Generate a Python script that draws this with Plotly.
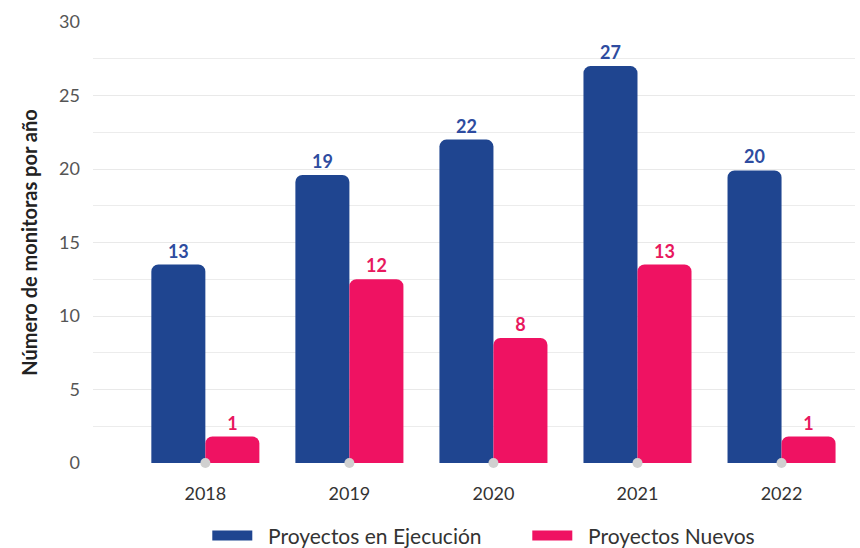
import plotly.graph_objects as go

years = ["2018", "2019", "2020", "2021", "2022"]
# bar heights as drawn, and the labels printed above them
ejecucion = [13.5, 19.6, 22.0, 27.0, 19.9]
ejecucion_labels = ["13", "19", "22", "27", "20"]
nuevos = [1.8, 12.5, 8.5, 13.5, 1.8]
nuevos_labels = ["1", "12", "8", "13", "1"]
baseline = [0, 0, 0, 0, 0]

BLUE = "#1f4590"
PINK = "#ef1262"

fig = go.Figure()

fig.add_trace(go.Bar(
    x=years, y=ejecucion, text=ejecucion_labels, name="Proyectos en Ejecución",
    marker=dict(color=BLUE, cornerradius=7, line=dict(width=0)),
    textposition="outside", cliponaxis=False,
    textfont=dict(family="Lato", size=18, color="#2e4ca0", weight="bold"),
    showlegend=False,
))
fig.add_trace(go.Bar(
    x=years, y=nuevos, text=nuevos_labels, name="Proyectos Nuevos",
    marker=dict(color=PINK, cornerradius=7, line=dict(width=0)),
    textposition="outside", cliponaxis=False,
    textfont=dict(family="Lato", size=18, color="#e8185e", weight="bold"),
    showlegend=False,
))

# small grey dots on the baseline at each category
fig.add_trace(go.Scatter(
    x=years, y=baseline, mode="markers", cliponaxis=False, showlegend=False,
    marker=dict(color="#d0d0d0", size=10), hoverinfo="skip",
))

# legend entries drawn as thick lines to mimic the pill swatches
for name, color in [("Proyectos en Ejecución", BLUE), ("Proyectos Nuevos", PINK)]:
    fig.add_trace(go.Scatter(
        x=[None], y=[None], mode="lines", name="\u00a0\u00a0" + name,
        line=dict(color=color, width=14),
    ))

fig.update_layout(
    width=860, height=548,
    template="plotly_white",
    plot_bgcolor="white", paper_bgcolor="white",
    barmode="group", bargap=0.25, bargroupgap=0,
    font=dict(family="Lato", color="#333"),
    margin=dict(l=93, r=5, t=22, b=85, autoexpand=False),
    xaxis=dict(
        range=[-0.78, 4.51], showgrid=False, zeroline=False, showline=False,
        tickfont=dict(size=18, color="#333"), ticks="", ticklabelstandoff=18,
    ),
    yaxis=dict(
        range=[0, 30], dtick=5, showgrid=True, gridcolor="#e9e9e9", gridwidth=1,
        zeroline=False, showline=False, ticks="", ticklabelstandoff=12,
        minor=dict(dtick=2.5, showgrid=True, gridcolor="#ececec", gridwidth=1),
        tickfont=dict(size=18, color="#555"),
        title=dict(text="Número de monitoras por año", standoff=16,
                   font=dict(size=20, color="#222", weight="bold")),
    ),
    legend=dict(
        orientation="h", x=0.15, xanchor="left", y=-0.165, yanchor="middle",
        font=dict(size=21, color="#333"), itemwidth=40, entrywidth=265,
    ),
)

# drop the default page margin so the figure sits at the window's corner
fig.write_html("out.html", config={"displayModeBar": False},
               post_script="document.body.style.margin='0';")
